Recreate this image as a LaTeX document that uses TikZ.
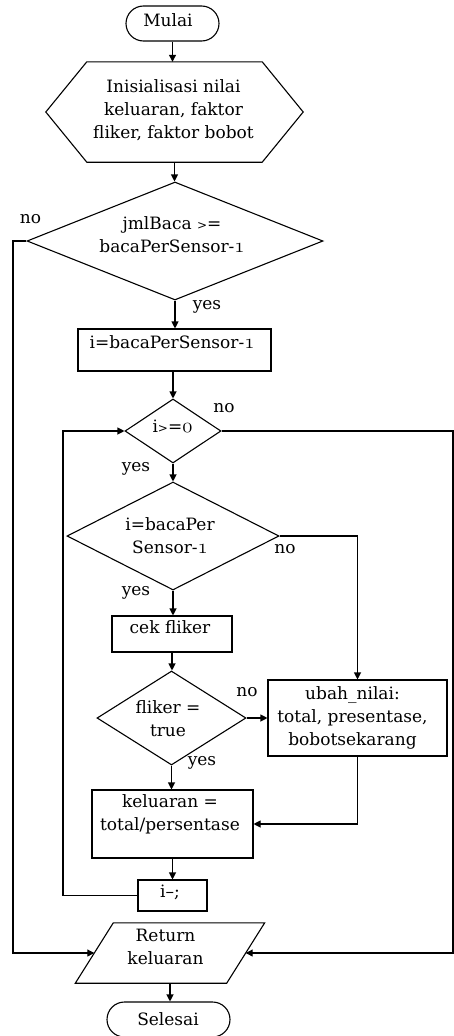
\documentclass[tikz,border=0pt]{standalone}
\usepackage{fontspec}
\setmainfont{DejaVu Serif}
\usetikzlibrary{shapes.geometric,arrows.meta}
\newcommand{\chartfont}{\fontsize{17}{23}\selectfont}
% old-style figures taken from the math italic font
\newcommand{\osn}[1]{{\fontsize{20}{20}\usefont{OML}{cmm}{m}{it}#1}}
\newcommand{\smallgt}{{\fontsize{12}{12}\selectfont>}}
\begin{document}
\begin{tikzpicture}[x=1pt,y=-1pt,
  shapeline/.style={line width=1.1pt},
  base/.style={draw, shapeline, inner sep=0pt},
  term/.style={base, rectangle, rounded corners=17.5pt, minimum height=35pt},
  procbox/.style={base, rectangle},
  decision/.style={base, diamond},
  plain/.style={inner sep=0pt},
  txt/.style={font=\chartfont, align=center, inner sep=0pt},
  lbl/.style={font=\chartfont, inner sep=0pt},
  flow/.style={shapeline, -{Triangle[length=7pt,width=7pt]}}
]
\useasboundingbox (0,0) rectangle (454,1036);

% ---- shapes along the main column ----
\node[term, minimum width=93pt,
  label={[txt,name=tstart,xshift=-4.5pt,yshift=3pt]center:Mulai}]
  (start) at (172.5,23.5) {};

\node[plain, minimum width=257pt, minimum height=100pt,
  label={[txt,name=tinit,xshift=-1pt,yshift=1.5pt]center:{\fontsize{17}{22.5}\selectfont Inisialisasi nilai\\ keluaran, faktor\\ fliker, faktor bobot}}]
  (init) at (174.5,112) {};
\draw[shapeline] (init.west) -- ([xshift=41pt]init.north west) -- ([xshift=-41pt]init.north east)
  -- (init.east) -- ([xshift=-41pt]init.south east) -- ([xshift=41pt]init.south west) -- cycle;

\node[decision, minimum width=296pt, minimum height=118pt,
  label={[txt,name=td1,xshift=-3pt,yshift=6pt]center:{\fontsize{17}{26}\selectfont jmlBaca \smallgt=\\ bacaPerSensor-\osn{1}}}]
  (d1) at (175,241) {};

\node[procbox, minimum width=193pt, minimum height=42pt,
  label={[txt,name=tb1,xshift=-2.5pt,yshift=8pt]center:{i=bacaPerSensor-\osn{1}}}]
  (b1) at (174.5,350) {};

\node[decision, minimum width=96pt, minimum height=64pt,
  label={[txt,name=td2,xshift=-0.5pt,yshift=5pt]center:{i\smallgt=\osn{0}}}]
  (d2) at (173,431) {};

\node[decision, minimum width=212pt, minimum height=108pt,
  label={[txt,name=td3,xshift=-3pt,yshift=0.5pt]center:{\fontsize{17}{27}\selectfont i=bacaPer\\ Sensor-\osn{1}}}]
  (d3) at (173,536) {};

\node[procbox, minimum width=120pt, minimum height=36pt,
  label={[txt,name=tcek,xshift=-2pt,yshift=7pt]center:cek fliker}]
  (cek) at (172,634) {};

\node[decision, minimum width=149pt, minimum height=94pt,
  label={[txt,name=td4,xshift=-3.5pt,yshift=-1pt]center:{\fontsize{17}{26}\selectfont fliker =\\ true}}]
  (d4) at (171.5,718) {};

\node[procbox, minimum width=179pt, minimum height=76pt,
  label={[txt,name=tubah,xshift=-5pt,yshift=0.5pt]center:{\fontsize{17}{22.5}\selectfont ubah\_nilai:\\ total, presentase,\\ bobotsekarang}}]
  (ubah) at (357.5,718) {};

\node[procbox, minimum width=161pt, minimum height=68pt,
  label={[txt,name=tkel,xshift=-2.5pt,yshift=9.5pt]center:{\fontsize{17}{25}\selectfont keluaran =\\ total/persentase}}]
  (kel) at (172.5,824) {};

\node[procbox, minimum width=69pt, minimum height=31pt,
  label={[txt,name=tdec,xshift=-2.5pt,yshift=3.5pt]center:{i--;}}]
  (dec) at (172.5,895.5) {};

\node[plain, minimum width=151pt, minimum height=60pt,
  label={[txt,name=tret,xshift=-4.5pt,yshift=6.5pt]center:{\fontsize{17}{25}\selectfont Return\\ keluaran}}]
  (ret) at (170,953) {};
\draw[shapeline] ([xshift=-19pt]ret.south west) -- ([xshift=19pt]ret.north west)
  -- ([xshift=19pt]ret.north east) -- ([xshift=-19pt]ret.south east) -- cycle;

\node[term, minimum width=123pt,
  label={[txt,name=tend,xshift=-0.5pt]center:Selesai}]
  (end) at (168.5,1019.5) {};

% ---- rails for the side connectors ----
\coordinate (leftrail) at (13,0);
\coordinate (looprail) at (63,0);
\coordinate (rightrail) at (453,0);

% ---- connectors ----
\draw[flow] (start.south) -- (start.south |- init.north);
\draw[flow] (init.south) -- (init.south |- d1.north);
\draw[flow] (d1.south) -- (d1.south |- b1.north);
\draw[flow] (d2.north |- b1.south) -- (d2.north);
\draw[flow] (d2.south) -- (d3.north);
\draw[flow] (d3.south) -- (d3.south |- cek.north);
\draw[flow] (cek.south) -- (cek.south |- d4.north);
\draw[flow] (d4.south) -- (d4.south |- kel.north);
\draw[flow] (kel.south) -- (kel.south |- dec.north);
\draw[flow] (ret.south) -- (ret.south |- end.north);

\draw[flow] (d1.west) -- (d1.west -| leftrail) |- (ret.west);
\draw[flow] (d2.east) -- (d2.east -| rightrail) |- (ret.east);
\draw[flow] (d3.east) -| (ubah.north);
\draw[flow] (d4.east) -- (ubah.west);
\draw[flow] (ubah.south) |- (kel.east);
\draw[flow] (dec.west) -- (dec.west -| looprail) |- (d2.west);

% ---- branch labels ----
\node[lbl] (no1) at (30.5,219) {no};
\node[lbl] (yes1) at (207,307) {yes};
\node[lbl] (no2) at (224,408) {no};
\node[lbl] (yes2) at (136,469) {yes};
\node[lbl] (no3) at (285,549) {no};
\node[lbl] (yes3) at (136,593) {yes};
\node[lbl] (no4) at (247,692) {no};
\node[lbl] (yes4) at (202,763) {yes};
\end{tikzpicture}
\end{document}
